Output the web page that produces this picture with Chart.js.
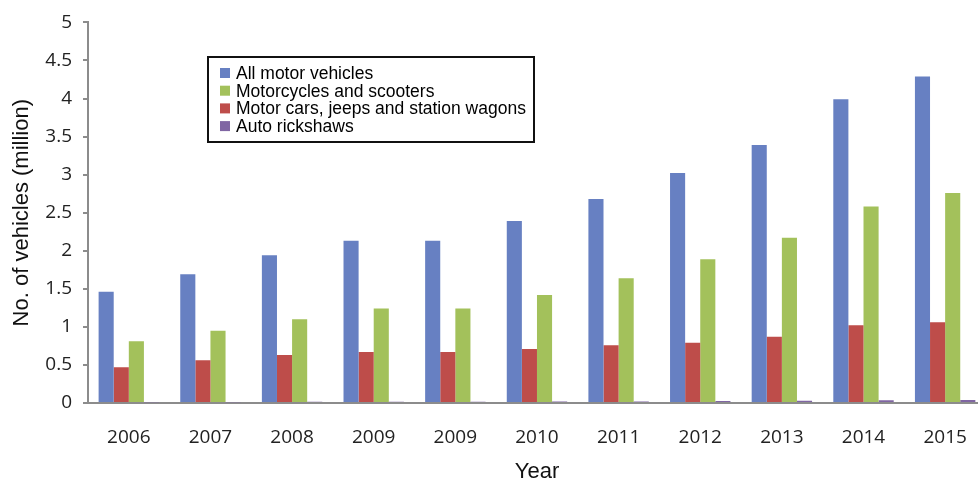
<!DOCTYPE html>
<html>
<head>
<meta charset="utf-8">
<script src="https://cdn.jsdelivr.net/npm/chart.js@4/dist/chart.umd.min.js"></script>
<style>
  html, body { margin: 0; padding: 0; background: #fff; overflow: hidden; }
  #wrap { width: 990px; height: 485px; }
</style>
</head>
<body>
<div id="wrap"><canvas id="myChart" width="990" height="485"></canvas></div>
<script>
// values (million vehicles)
const years = ["2006", "2007", "2008", "2009", "2009", "2010", "2011", "2012", "2013", "2014", "2015"];
const allMotor = [1.46, 1.69, 1.94, 2.13, 2.13, 2.39, 2.68, 3.02, 3.39, 3.99, 4.29];
const carsJeeps = [0.47, 0.56, 0.63, 0.67, 0.67, 0.71, 0.76, 0.79, 0.87, 1.02, 1.06];
const motorcycles = [0.81, 0.95, 1.10, 1.24, 1.24, 1.42, 1.64, 1.89, 2.17, 2.58, 2.76];
const autoRickshaws = [0.01, 0.01, 0.015, 0.015, 0.015, 0.02, 0.02, 0.025, 0.03, 0.035, 0.04];
const yTicks = [0, 0.5, 1, 1.5, 2, 2.5, 3, 3.5, 4, 4.5, 5];

// legend shows a different order than the bars
const legendOrder = [0, 2, 1, 3];

// legend drawn as a framed box inside the plot
const boxLegend = {
  id: "boxLegend",
  afterDraw(chart) {
    const c = chart.ctx;
    const x0 = 208, y0 = 57, w = 326, h = 85;
    c.save();
    c.fillStyle = "#fff";
    c.fillRect(x0, y0, w, h);
    c.strokeStyle = "#111";
    c.lineWidth = 2;
    c.strokeRect(x0, y0, w, h);
    c.font = "17.5px 'Liberation Sans', Arial, sans-serif";
    c.textBaseline = "middle";
    legendOrder.forEach((idx, i) => {
      const ds = chart.data.datasets[idx];
      const y = 73 + i * 17.7;
      c.fillStyle = ds.backgroundColor;
      c.fillRect(220, y - 5, 10, 10);
      c.fillStyle = "#000";
      c.fillText(ds.label, 236, y + 1);
    });
    c.restore();
  }
};

let ctx = document.getElementById("myChart").getContext("2d");
let myChart = new Chart(ctx, {
  type: "bar",
  data: {
    labels: years,
    datasets: [
      { label: "All motor vehicles", data: allMotor, backgroundColor: "#6780C2" },
      { label: "Motor cars, jeeps and station wagons", data: carsJeeps, backgroundColor: "#BE4D4A" },
      { label: "Motorcycles and scooters", data: motorcycles, backgroundColor: "#A3C15B" },
      { label: "Auto rickshaws", data: autoRickshaws, backgroundColor: "#8066A3" }
    ]
  },
  options: {
    responsive: false,
    animation: false,
    layout: { padding: { top: 16, right: 3, bottom: 0, left: 0 } },
    datasets: { bar: { categoryPercentage: 0.74, barPercentage: 1.0, borderWidth: 0 } },
    plugins: { legend: { display: false }, tooltip: { enabled: false } },
    scales: {
      x: {
        grid: { display: false, drawTicks: false },
        border: { display: true, color: "#8c8c8c", width: 2 },
        ticks: {
          color: "#222",
          font: { family: "'Open Sans', sans-serif", size: 19 },
          padding: 23,
          maxRotation: 0,
          autoSkip: false
        },
        title: {
          display: true,
          text: "Year",
          color: "#111",
          font: { family: "'Liberation Sans', Arial, sans-serif", size: 22 },
          padding: { top: 0, bottom: 0 }
        },
        afterFit(scale) { scale.height = 82; }
      },
      y: {
        min: 0,
        max: 5,
        afterBuildTicks(scale) { scale.ticks = yTicks.map(v => ({ value: v })); },
        grid: { drawOnChartArea: false, drawTicks: true, tickLength: 5, color: "#8c8c8c", lineWidth: 2 },
        border: { display: true, color: "#8c8c8c", width: 2 },
        ticks: {
          color: "#222",
          font: { family: "'Open Sans', sans-serif", size: 19 },
          padding: 11,
          callback: (v) => String(v)
        },
        title: {
          display: true,
          text: "No. of vehicles (million)",
          color: "#111",
          font: { family: "'Liberation Sans', Arial, sans-serif", size: 22 },
          padding: { top: 9, bottom: 0 }
        },
        afterFit(scale) { scale.width = 88; }
      }
    }
  },
  plugins: [boxLegend]
});
</script>
</body>
</html>
